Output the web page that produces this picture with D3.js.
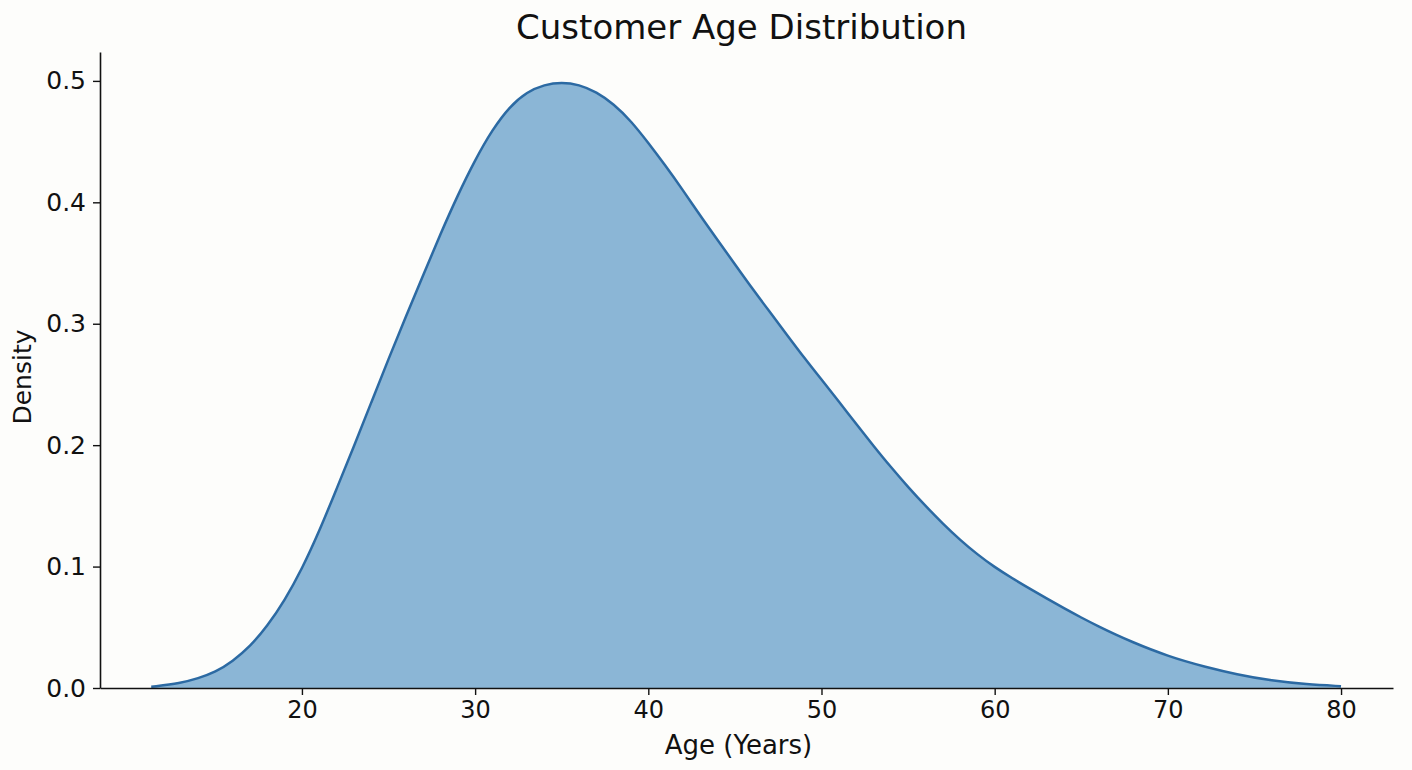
<!DOCTYPE html>
<html>
<head>
<meta charset="utf-8">
<script src="https://cdn.jsdelivr.net/npm/d3@7"></script>
<style>
  body { margin: 0; background: #fdfdfb; }
  svg { display: block; font-family: "DejaVu Sans", sans-serif; }
</style>
</head>
<body>
<svg id="chart"></svg>
<script>
// Age values (years) and the density
const ages = [11.3, 13, 14, 15, 16, 17, 18, 19, 20, 21, 22, 23, 24, 25, 26, 27, 28, 29, 30,
    31, 32, 33, 34, 35, 36, 37, 38, 39, 40, 41, 42, 43, 44, 45, 46, 47, 48, 49, 50,
    51, 52, 53, 54, 55, 56, 57, 58, 59, 60, 61, 62, 63, 64, 65, 66, 67, 68, 69, 70,
    71, 72, 74, 76, 78, 80];
const density = [0.001, 0.004, 0.008, 0.013, 0.022, 0.034, 0.051, 0.072, 0.098, 0.129,
    0.164, 0.199, 0.235, 0.271, 0.306, 0.340, 0.374, 0.406, 0.435, 0.460, 0.479, 0.491,
    0.497, 0.499, 0.497, 0.491, 0.481, 0.467, 0.449, 0.430, 0.410, 0.389, 0.369, 0.349,
    0.329, 0.310, 0.291, 0.272, 0.254, 0.236, 0.2175, 0.1995, 0.182, 0.1655, 0.150, 0.1355,
    0.122, 0.110, 0.0995, 0.0905, 0.082, 0.0737, 0.0657, 0.058, 0.0507, 0.0439, 0.0376,
    0.0318, 0.0266, 0.022, 0.018, 0.011, 0.006, 0.003, 0.0015];
const xTicks = [20, 30, 40, 50, 60, 70, 80];
const yTicks = [0.0, 0.1, 0.2, 0.3, 0.4, 0.5];

const W = 1412, H = 770;
const margin = { top: 52, right: 19, bottom: 82, left: 100 };
const width = W - margin.left - margin.right;
const height = H - margin.top - margin.bottom;

const svg = d3.select("#chart").attr("width", W).attr("height", H);
svg.append("rect").attr("width", W).attr("height", H).attr("fill", "#fdfdfb");

const g = svg.append("g")
    .attr("transform", "translate(" + margin.left + "," + margin.top + ")");

const x = d3.scaleLinear().domain([8.34, 83.0]).range([0, width]);
const y = d3.scaleLinear().domain([0, 0.5238]).range([height, 0]);

const data = ages.map((a, i) => ({ age: a, d: density[i] }));

// Filled density area
g.append("path")
    .datum(data)
    .attr("fill", "#8bb6d6")
    .attr("d", d3.area()
        .x(d => x(d.age))
        .y0(y(0))
        .y1(d => y(d.d))
        .curve(d3.curveBasis));

// Outline
g.append("path")
    .datum(data)
    .attr("fill", "none")
    .attr("stroke", "#2c6aa3")
    .attr("stroke-width", 2.5)
    .attr("d", d3.line()
        .x(d => x(d.age))
        .y(d => y(d.d))
        .curve(d3.curveBasis));

// X axis
const xAxis = g.append("g")
    .attr("transform", "translate(0," + height + ")")
    .call(d3.axisBottom(x).tickValues(xTicks).tickFormat(d3.format("d"))
        .tickSize(7).tickPadding(6).tickSizeOuter(0));
xAxis.select(".domain").attr("stroke", "#111").attr("stroke-width", 1.6);
xAxis.selectAll(".tick line").attr("stroke", "#111").attr("stroke-width", 1.4);
xAxis.selectAll("text").style("font-size", "24px").attr("fill", "#111")
    .attr("font-family", "DejaVu Sans");

// Y axis
const yAxis = g.append("g")
    .call(d3.axisLeft(y).tickValues(yTicks).tickFormat(d3.format(".1f"))
        .tickSize(7).tickPadding(7).tickSizeOuter(0));
yAxis.select(".domain").attr("stroke", "#111").attr("stroke-width", 1.6);
yAxis.selectAll(".tick line").attr("stroke", "#111").attr("stroke-width", 1.4);
yAxis.selectAll("text").style("font-size", "25px").attr("fill", "#111")
    .attr("font-family", "DejaVu Sans");

// Axis labels
svg.append("text")
    .attr("x", margin.left + width / 2 - 8)
    .attr("y", 754)
    .attr("text-anchor", "middle")
    .style("font-size", "26px")
    .attr("fill", "#111")
    .text("Age (Years)");

svg.append("text")
    .attr("transform", "translate(31," + (margin.top + height / 2 + 7) + ") rotate(-90)")
    .attr("text-anchor", "middle")
    .style("font-size", "25px")
    .attr("fill", "#111")
    .text("Density");

// Title
svg.append("text")
    .attr("x", margin.left + width / 2 - 5)
    .attr("y", 39)
    .attr("text-anchor", "middle")
    .style("font-size", "34px")
    .attr("fill", "#111")
    .text("Customer Age Distribution");
</script>
</body>
</html>
